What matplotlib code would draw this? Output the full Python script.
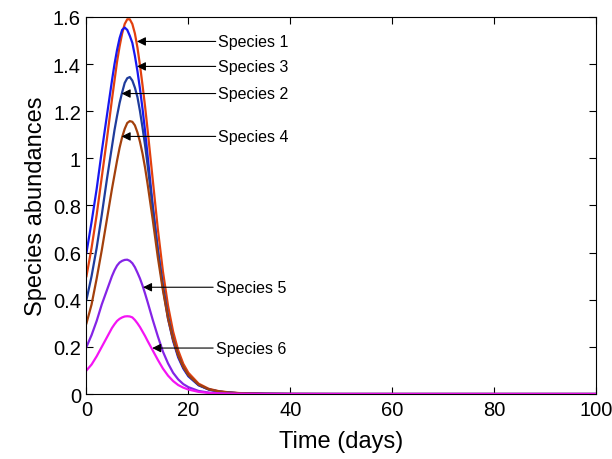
import matplotlib
matplotlib.use("Agg")
import matplotlib.pyplot as plt
from matplotlib.ticker import FormatStrFormatter

plt.rcParams['font.family'] = ['Liberation Sans', 'DejaVu Sans']

# =============================
# Data
# =============================

t = [0, 1, 2, 3, 4, 5, 5.5, 6, 6.5, 7, 7.5, 8, 8.5, 9, 9.5, 10, 10.5, 11, 11.5, 12,
     13, 14, 15, 16, 17, 18, 19, 20, 22, 24, 26, 28, 30, 35, 40, 50, 60, 100]

species_1 = [0.50, 0.62, 0.76, 0.92, 1.08, 1.25, 1.33, 1.41, 1.475, 1.53, 1.57, 1.59,
             1.59, 1.57, 1.53, 1.47, 1.395, 1.31, 1.22, 1.12,
             0.91, 0.70, 0.52, 0.375, 0.265, 0.185, 0.128, 0.090,
             0.044, 0.022, 0.012, 0.007, 0.004, 0.001, 0.0003, 0, 0, 0]
species_2 = [0.40, 0.50, 0.62, 0.76, 0.91, 1.05, 1.12, 1.18, 1.235, 1.28, 1.32, 1.34,
             1.345, 1.33, 1.30, 1.26, 1.20, 1.13, 1.055, 0.97,
             0.79, 0.61, 0.46, 0.33, 0.235, 0.163, 0.113, 0.078,
             0.038, 0.019, 0.010, 0.006, 0.003, 0.001, 0.0003, 0, 0, 0]
species_3 = [0.60, 0.73, 0.87, 1.03, 1.18, 1.33, 1.40, 1.46, 1.51, 1.545, 1.555, 1.545,
             1.52, 1.49, 1.435, 1.37, 1.295, 1.21, 1.115, 1.01,
             0.80, 0.61, 0.45, 0.32, 0.225, 0.155, 0.108, 0.075,
             0.037, 0.019, 0.010, 0.006, 0.003, 0.001, 0.0003, 0, 0, 0]
species_4 = [0.30, 0.38, 0.49, 0.61, 0.74, 0.87, 0.93, 0.99, 1.045, 1.09, 1.125, 1.15,
             1.158, 1.155, 1.14, 1.11, 1.07, 1.02, 0.96, 0.89,
             0.74, 0.58, 0.44, 0.32, 0.23, 0.162, 0.114, 0.080,
             0.040, 0.020, 0.011, 0.006, 0.0035, 0.001, 0.0003, 0, 0, 0]
species_5 = [0.20, 0.25, 0.31, 0.38, 0.44, 0.50, 0.525, 0.545, 0.558, 0.565, 0.569, 0.57,
             0.565, 0.555, 0.538, 0.515, 0.49, 0.46, 0.426, 0.39,
             0.315, 0.245, 0.18, 0.13, 0.09, 0.062, 0.042, 0.029,
             0.013, 0.006, 0.003, 0.0015, 0.0007, 0.0002, 0, 0, 0, 0]
species_6 = [0.10, 0.125, 0.16, 0.20, 0.24, 0.28, 0.296, 0.31, 0.319, 0.325, 0.329, 0.33,
             0.329, 0.325, 0.314, 0.30, 0.284, 0.265, 0.246, 0.225,
             0.185, 0.145, 0.108, 0.078, 0.055, 0.038, 0.027, 0.019,
             0.009, 0.0045, 0.002, 0.001, 0.0005, 0.0001, 0, 0, 0, 0]

names = ["Species 1", "Species 3", "Species 2", "Species 4", "Species 5", "Species 6"]
series = [species_1, species_3, species_2, species_4, species_5, species_6]
colors = ["#e2400e", "#1818f0", "#1f3c9c", "#a3400c", "#8424e6", "#f414f4"]

# label positions: (arrow tip time, label y, text x)
tips = [9.9, 9.9, 6.9, 6.9, 11.1, 12.9]
label_y = [1.496, 1.39, 1.275, 1.093, 0.453, 0.195]
text_x = [25.9, 25.9, 25.9, 25.9, 25.4, 25.4]

# =============================
# Plot
# =============================

fig = plt.figure(figsize=(6.12, 4.6), dpi=100)
ax = fig.add_axes([0.1413, 0.1413, 0.8327, 0.8197])

for ys, c in zip(series, colors):
    ax.plot(t, ys, color=c, lw=1.6)

for name, tip, ly, tx in zip(names, tips, label_y, text_x):
    ax.annotate(name, xy=(tip, ly), xytext=(tx, ly),
                fontsize=11.5, va="center", ha="left",
                arrowprops=dict(arrowstyle="-|>", color="black", lw=0.8,
                                mutation_scale=13, shrinkA=0, shrinkB=0))

ax.set_xlim(0, 100)
ax.set_ylim(0, 1.6)
ax.set_xticks(range(0, 101, 20))
ax.set_yticks([0, 0.2, 0.4, 0.6, 0.8, 1.0, 1.2, 1.4, 1.6])
ax.yaxis.set_major_formatter(FormatStrFormatter("%g"))
ax.tick_params(direction="in", top=True, right=True, length=5, labelsize=14.5, pad=4)
ax.set_xlabel("Time (days)", fontsize=17, labelpad=8)
ax.set_ylabel("Species abundances", fontsize=17, labelpad=4)

fig.savefig("out.png", dpi=100)
